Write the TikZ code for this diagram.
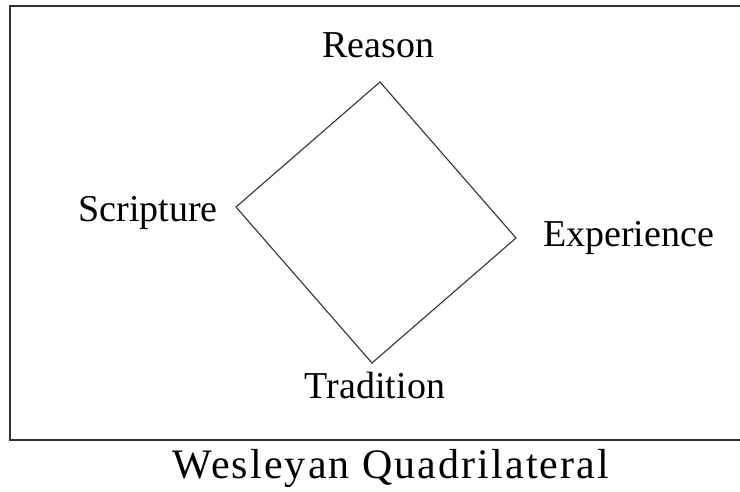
\documentclass[tikz,border=0pt]{standalone}
\usepackage{fontspec}
\setmainfont{Liberation Serif}
\newfontfamily\titlefont[LetterSpace=5]{Liberation Serif}
\usetikzlibrary{positioning}

\tikzset{
  pillar/.style={anchor=base,inner sep=0pt,font=\fontsize{38}{40}\selectfont},
  quadline/.style={draw=black!80,line width=1.1pt,line join=miter},
}

\begin{document}
\begin{tikzpicture}[x=1pt,y=-1pt]
  \useasboundingbox (0,0) rectangle (740,492);
  %\draw[color=gray,step=10pt,help lines,opacity=0.3] (0,0) grid (740,492); %help grid
  % frame, open on the right
  \draw[black!80,line width=2pt] (740,6)--(10,6)--(10,439.5)--(740,439.5);
  % corners of the quadrilateral
  \coordinate (top) at (380,82);
  \coordinate (left) at (236,207);
  \coordinate (right) at (516,238);
  \coordinate (bottom) at (372,363);
  \draw[quadline] (top)--(right)--(bottom)--(left)--cycle;
  % the four sources
  \node[pillar] (reason) at (378.5,58) {Reason};
  \node[pillar] (scripture) at (148,222) {Scripture};
  \node[pillar] (experience) at (628.5,247) {Experience};
  \node[pillar] (tradition) at (375,398) {Tradition};
  \node[anchor=base,inner sep=0pt,font=\titlefont\fontsize{42}{44}\selectfont] (title) at (391,478) {Wesleyan Quadrilateral};
\end{tikzpicture}
\end{document}
